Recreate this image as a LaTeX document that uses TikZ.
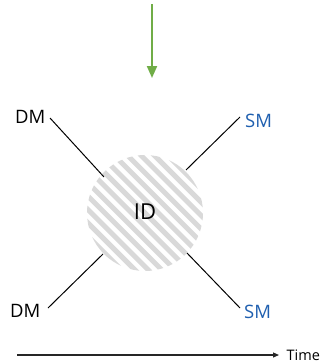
\documentclass[tikz,border=0pt]{standalone}
\usepackage{fontspec}
\setmainfont{Open Sans}
\usetikzlibrary{arrows.meta}
\definecolor{arrowgreen}{HTML}{70AD47}
\definecolor{smblue}{HTML}{1F5FAF}
\definecolor{stripegray}{HTML}{D9D9D9}
\definecolor{axisgray}{HTML}{262626}
\begin{document}
\begin{tikzpicture}[x=1pt,y=-1pt,
  lbl/.style={inner sep=0pt, font=\fontsize{18.5}{20}\selectfont},
  leg/.style={line width=1pt, black}]
\useasboundingbox (0,0) rectangle (321,364);

% incoming flow
\coordinate (top) at (152,4);
\coordinate (topend) at (152,78);
\draw[arrowgreen, line width=2pt, -{Triangle[length=12pt,width=10pt]}] (top) -- (topend);

% hatched disc
\begin{scope}
  \clip (145,213) circle (58);
  \foreach \k in {-20,...,20}
    \draw[stripegray, line width=5pt] (145+\k*13.4-100,113) -- (145+\k*13.4+100,313);
\end{scope}
\node[inner sep=0pt, font=\fontsize{22}{24}\selectfont] (id) at (145,212) {ID};

% labels
\node[lbl, anchor=base west] (dm1) at (15,123) {DM};
\node[lbl, anchor=base west, text=smblue] (sm1) at (245,127) {SM};
\node[lbl, anchor=base west] (dm2) at (10,317) {DM};
\node[lbl, anchor=base west, text=smblue] (sm2) at (244,318) {SM};

% legs
\coordinate (a1) at (50,118);  \coordinate (b1) at (104,177);
\coordinate (a2) at (240,117); \coordinate (b2) at (186,170);
\coordinate (a3) at (48,308);  \coordinate (b3) at (103,254);
\coordinate (a4) at (240,308); \coordinate (b4) at (187,253);
\draw[leg] (a1) -- (b1);
\draw[leg] (a2) -- (b2);
\draw[leg] (a3) -- (b3);
\draw[leg] (a4) -- (b4);

% time axis
\coordinate (t0) at (17,355);
\coordinate (t1) at (279,355);
\draw[axisgray, line width=1.2pt, -{Triangle[length=6pt,width=5pt]}] (t0) -- (t1);
\node[inner sep=0pt, anchor=base west, font=\fontsize{14.5}{16}\selectfont] (time) at (286.5,360) {Time};
\end{tikzpicture}
\end{document}
